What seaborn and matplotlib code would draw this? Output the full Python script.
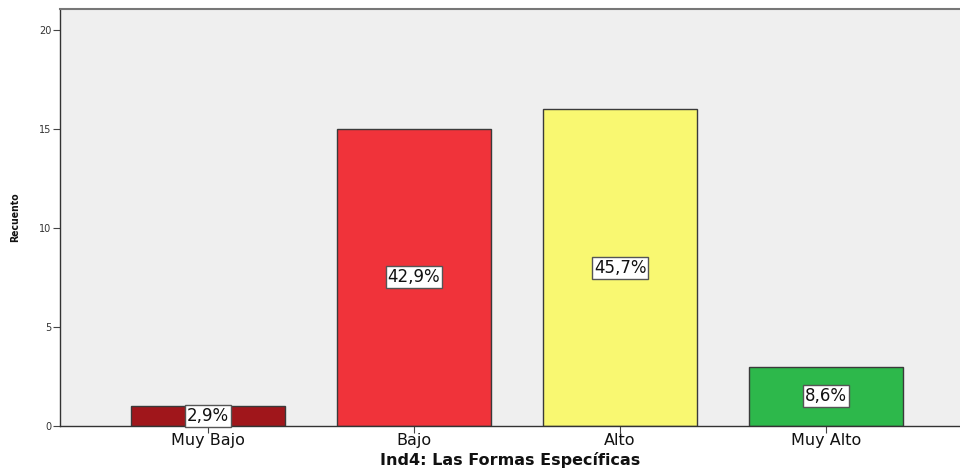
import matplotlib
matplotlib.use("Agg")
import matplotlib.pyplot as plt
import seaborn as sns
import pandas as pd

categories = ["Muy Bajo", "Bajo", "Alto", "Muy Alto"]
counts = [1, 15, 16, 3]
pct_labels = ["2,9%", "42,9%", "45,7%", "8,6%"]
colors = ["#A0161B", "#F0333A", "#F9F871", "#2DB84B"]
yticks = [0, 5, 10, 15, 20]

sns.set_theme(style="white")
plt.rcParams["font.family"] = ["DejaVu Sans"]

df = pd.DataFrame({"cat": categories, "n": counts})

fig = plt.figure(figsize=(9.6, 4.7), dpi=100)
ax = fig.add_axes([60/960, 44/470, 900/960, 417/470])
ax.set_facecolor("#EFEFEF")

sns.barplot(data=df, x="cat", y="n", hue="cat", palette=colors, order=categories,
            hue_order=categories, legend=False, width=0.75, edgecolor="#3A3A3A",
            linewidth=1.0, saturation=1, ax=ax)

for i, (v, lab) in enumerate(zip(counts, pct_labels)):
    ax.text(i, v / 2, lab, ha="center", va="center", fontsize=12, color="#111111",
            bbox=dict(boxstyle="square,pad=0.12", facecolor="white", edgecolor="#555555", linewidth=1.0))

ax.set_xlim(-0.718, 3.65)
ax.set_ylim(0, 21.06)
ax.set_yticks(yticks)
ax.set_yticklabels([str(t) for t in yticks], fontsize=7, color="#333333")
ax.tick_params(axis="y", which="both", left=True, length=5, width=0.8, color="#444444", pad=1)
ax.tick_params(axis="x", which="both", bottom=True, length=5, width=0.8, color="#444444",
               labelsize=11.5, labelcolor="#111111", pad=0)

for s in ["left", "bottom"]:
    ax.spines[s].set_color("#333333")
    ax.spines[s].set_linewidth(1.0)
ax.spines["top"].set_color("#777777")
ax.spines["top"].set_linewidth(1.5)
ax.spines["right"].set_visible(False)

ax.set_xlabel("Ind4: Las Formas Específicas", fontsize=11.5, fontweight="bold", color="#111111", labelpad=3)
ax.set_ylabel("Recuento", fontsize=7.5, fontweight="bold", color="#111111", labelpad=14,
              fontstretch="condensed")

fig.savefig("out.png", dpi=100, facecolor="white")
